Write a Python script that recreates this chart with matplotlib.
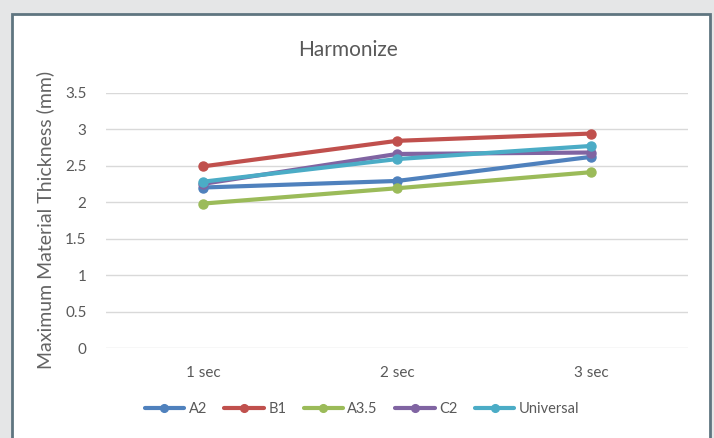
import matplotlib.pyplot as plt
from matplotlib.patches import Rectangle

categories = ['1 sec', '2 sec', '3 sec']
a2 = [2.20, 2.29, 2.62]
b1 = [2.49, 2.84, 2.94]
a35 = [1.98, 2.19, 2.41]
c2 = [2.25, 2.66, 2.68]
universal = [2.28, 2.59, 2.77]

series = [('A2', a2, '#4F81BD'),
          ('B1', b1, '#C0504D'),
          ('A3.5', a35, '#9BBB59'),
          ('C2', c2, '#8064A2'),
          ('Universal', universal, '#4BACC6')]

plt.rcParams['font.family'] = ['Lato', 'DejaVu Sans']
txt = '#595959'

fig = plt.figure(figsize=(7.14, 4.38), dpi=100)
fig.patch.set_facecolor('#e5e6e7')
# white chart box with dark border
fig.patches.append(Rectangle((12/714, -0.05), 698/714, 1.05 - 14/438,
                             transform=fig.transFigure, facecolor='white',
                             edgecolor='#5f7580', linewidth=2, zorder=-10))

ax = fig.add_axes([106/714, 1-348/438, 582/714, (348-92.7)/438])
ax.set_facecolor('white')
x = range(len(categories))
for name, vals, col in series:
    ax.plot(x, vals, '-o', color=col, lw=3, ms=6.5, label=name,
            solid_capstyle='round')

ax.set_xlim(-0.5, 2.5)
ax.set_ylim(0, 3.5)
ax.set_yticks([0, 0.5, 1, 1.5, 2, 2.5, 3, 3.5])
ax.set_yticklabels(['0', '0.5', '1', '1.5', '2', '2.5', '3', '3.5'])
ax.set_xticks(list(x))
ax.set_xticklabels(categories)
ax.tick_params(length=0, labelsize=11, colors=txt, pad=13)
ax.tick_params(axis='y', pad=14)
ax.grid(axis='y', color='#d9d9d9', lw=1)
ax.set_axisbelow(True)
for s in ax.spines.values():
    s.set_visible(False)

ax.set_ylabel('Maximum Material Thickness (mm)', fontsize=14, color='#646464', labelpad=8)
fig.text(348/714, 1-50/438, 'Harmonize', fontsize=15, color=txt, ha='center', va='center')

ax.legend(loc='center', bbox_to_anchor=(362/714, 1-409/438), bbox_transform=fig.transFigure,
          ncol=5, frameon=False, fontsize=10.5, labelcolor=txt, handlelength=2.7,
          columnspacing=1.2, handletextpad=0.3, borderaxespad=0, markerscale=0.85)

fig.savefig('out.png', dpi=100)
